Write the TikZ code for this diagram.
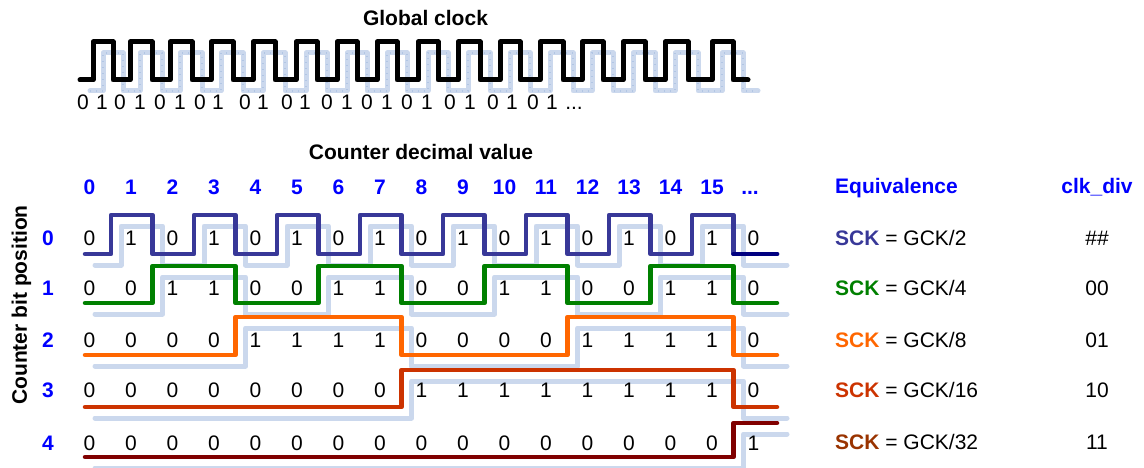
\documentclass[tikz,border=0pt]{standalone}
\usepackage{fontspec}
\setmainfont{Liberation Sans}
\definecolor{hdrblue}{RGB}{0,0,255}
\definecolor{wzero}{RGB}{56,56,152}
\definecolor{wzeroend}{RGB}{0,0,128}
\definecolor{wone}{RGB}{0,128,0}
\definecolor{wtwo}{RGB}{255,102,0}
\definecolor{wthree}{RGB}{204,51,0}
\definecolor{wfour}{RGB}{128,0,0}
\definecolor{sckfour}{RGB}{153,51,0}
\definecolor{shade}{RGB}{203,216,237}
\definecolor{shadedot}{RGB}{178,198,228}

% square wave: low y, high y, list of rising cells, half period in cells
\newcommand\wavepath[4]{(85,#1) foreach \i in {#3} { -- ({69.5+41.5*\i},#1) -- ({69.5+41.5*\i},#2) -- ({69.5+41.5*(\i+#4)},#2) -- ({69.5+41.5*(\i+#4)},#1) } -- (777,#1)}
\newcommand\clockpath{(80,80) foreach \r/\f in {93/113,130/152,170/192,211/233,253/275,296/317,337/357,377/397,418/438,458/480,500/520,540/563,582/603,623/645,665/688,712/733} { -- (\r,80) -- (\r,42) -- (\f,42) -- (\f,80) } -- (748,80)}

\begin{document}
\begin{tikzpicture}[x=1pt,y=-1pt,
  txt/.style={font=\fontsize{21}{25}\selectfont, inner sep=0pt, anchor=base},
  btxt/.style={font=\fontsize{21}{25}\selectfont\bfseries, inner sep=0pt, anchor=base},
  shadowline/.style={draw=shade, line width=5pt, line cap=round, line join=round, shift={(10,11)}},
  shadowdots/.style={draw=shadedot, line width=1.2pt, dash pattern=on 1pt off 5pt, shift={(10,11)}},
  wave/.style={line width=4.5pt, line cap=round, line join=round},
]
\useasboundingbox (0,0) rectangle (1144,468);

% faint shadows behind the waveforms
\draw[shadowline] \clockpath;
\draw[shadowdots] \clockpath;
\draw[shadowline] \wavepath{254}{215}{1,3,...,15}{1};
\draw[shadowline] \wavepath{303}{266}{2,6,10,14}{2};
\draw[shadowline] \wavepath{355}{317}{4,12}{4};
\draw[shadowline] \wavepath{407}{370}{8}{8};
\draw[shadowline] (85,457) -- (733.5,457) -- (733.5,423) -- (777,423);

% global clock
\node[btxt, anchor=base] (gtitle) at (425.5,25.5) {Global clock};
\draw[wave, line width=5pt, black] \clockpath;
\foreach \x [count=\n from 0] in {83,102,120,140,160,180,200,218,245,263,287,305,327,347,367,387,407,427,450,470,493,512,533,552} {
  \pgfmathtruncatemacro\d{mod(\n,2)}
  \node[txt] (gl\n) at (\x,110) {\d};
}
\node[txt] (gldots) at (574,110) {...};

% counter header
\node[btxt] (ctitle) at (421,159.5) {Counter decimal value};
\foreach \i in {0,...,15} {
  \node[btxt, text=hdrblue] (cnt\i) at ({89.5+41.5*\i},194.5) {\i};
}
\node[btxt, text=hdrblue] (cntdots) at (750,194.5) {...};

% bit axis
\node[btxt, rotate=90] (axis) at (27,305) {Counter bit position};
\foreach \r/\yb in {0/245.5,1/295.5,2/347.5,3/397.5,4/450.5} {
  \node[btxt, text=hdrblue] (pos\r) at (48,\yb) {\r};
  \foreach \i in {0,...,16} {
    \pgfmathtruncatemacro\d{mod(floor(\i/2^\r),2)}
    \node[txt] (bit\r-\i) at ({89.5+41.5*\i},\yb) {\d};
  }
}

% counter bit waveforms
\draw[wave, wzero] \wavepath{254}{215}{1,3,...,15}{1};
\draw[wave, wzeroend] (733.5,254) -- (777,254);
\draw[wave, wone] \wavepath{303}{266}{2,6,10,14}{2};
\draw[wave, wtwo] \wavepath{355}{317}{4,12}{4};
\draw[wave, wthree] \wavepath{407}{370}{8}{8};
\draw[wave, wfour] (85,457) -- (733.5,457) -- (733.5,423) -- (777,423);

% equivalence table
\node[btxt, anchor=base west, text=hdrblue] (eqh) at (835,193.5) {Equivalence};
\node[btxt, text=hdrblue] (divh) at (1097,193.5) {clk\_div};
\foreach \c/\dv/\code/\yb [count=\k from 0] in {wzero/2/\#\#/245.5, wone/4/00/295.5, wtwo/8/01/347.5, wthree/16/10/397.5, sckfour/32/11/449.5} {
  \node[txt, anchor=base west] (eq\k) at (835,\yb) {\textcolor{\c}{\bfseries SCK} = GCK/\dv};
  \node[txt] (div\k) at (1097,\yb) {\code};
}
\end{tikzpicture}
\end{document}
